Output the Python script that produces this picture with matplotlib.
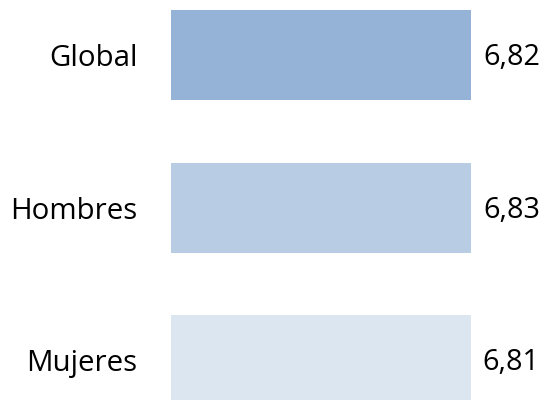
import matplotlib.pyplot as plt

# Datos
categorias = ["Global", "Hombres", "Mujeres"]
valores = [6.82, 6.83, 6.81]
colores = ["#95b3d7", "#b8cce4", "#dce6f1"]

plt.rcParams['font.family'] = ['Open Sans', 'DejaVu Sans']

fig = plt.figure(figsize=(5.47, 4.0), dpi=100)
ax = fig.add_axes([171 / 547, 0, 1 - 171 / 547, 1])

pos = range(len(categorias))
ax.barh(pos, valores, height=0.59, color=colores)

for i, v in enumerate(valores):
    ax.annotate(f"{v:.2f}".replace(".", ","), (v, i), xytext=(8.6, -2),
                textcoords="offset points", va="center", ha="left", fontsize=20.8)

ax.set_yticks(list(pos))
ax.set_yticklabels(categorias, fontsize=21.2)
ax.tick_params(axis="y", length=0, pad=24)
ax.set_xticks([])
ax.set_xlim(0, 8.547)
ax.set_ylim(2.262, -0.361)
for s in ax.spines.values():
    s.set_visible(False)

plt.savefig("out.png", dpi=100)
